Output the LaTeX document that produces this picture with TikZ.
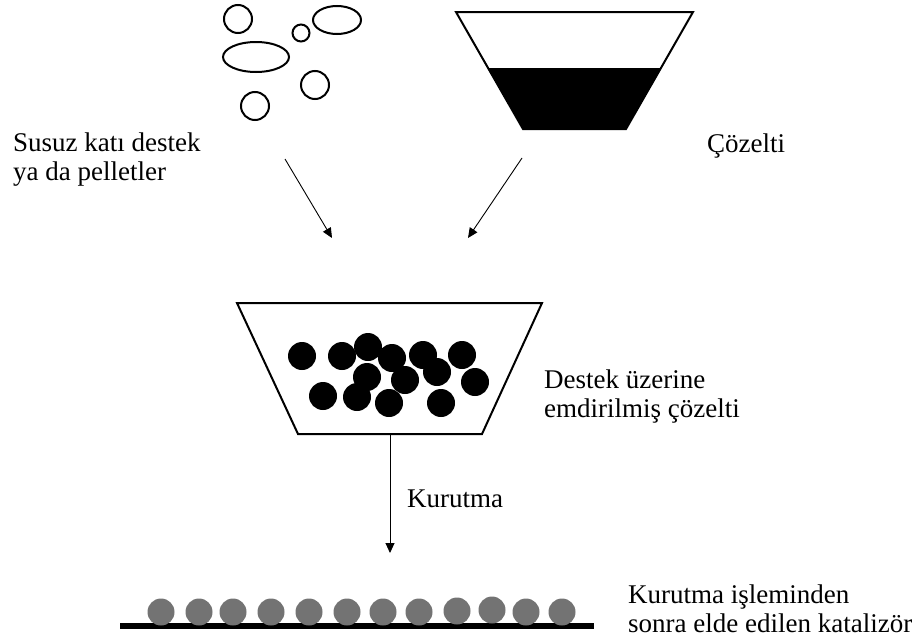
\documentclass[tikz,border=0pt]{standalone}
\usepackage{fontspec}
\setmainfont{Liberation Serif}
\usetikzlibrary{arrows.meta}
\begin{document}
\begin{tikzpicture}[x=1pt,y=-1pt,
  outl/.style={line width=2pt, line join=miter},
  pellet/.style={draw=black, line width=2pt},
  wetball/.style={fill=black},
  dryball/.style={fill=black!55},
  lbl/.style={font=\fontsize{27}{29}\selectfont, inner sep=0pt, anchor=base west, align=left},
  arr/.style={line width=0.9pt, -{Triangle[length=10pt,width=9pt]}}]
\useasboundingbox[fill=white] (0,0) rectangle (921,640);

% dry supports / pellets
\draw[pellet] (238,19) circle[radius=14pt];
\draw[pellet] (301,33) circle[radius=8.5pt];
\draw[pellet] (337,20) ellipse[x radius=24pt, y radius=14pt];
\draw[pellet] (256,57) ellipse[x radius=33pt, y radius=15pt];
\draw[pellet] (315,85) circle[radius=14pt];
\draw[pellet] (255,106) circle[radius=14pt];

% solution funnel
\fill (488,68) -- (661,68) -- (626,129) -- (523,129) -- cycle;
\draw[outl] (456,12) -- (693,12) -- (626,129) -- (523,129) -- cycle;

% impregnation bowl
\draw[outl] (237,303) -- (542,303) -- (482,434) -- (298,434) -- cycle;
\foreach \p in {(302,356),(342,356),(368,347),(392,358),(423,355),(462,355),
                (437,372),(475,382),(367,377),(405,380),(323,396),(357,397),
                (389,403),(441,403)}
  \fill[wetball] \p circle[radius=14pt];

% dried catalyst
\fill (120,623) rectangle (594,629);
\foreach \x/\y in {161/612,199/612,233/612,271/612,309/612,347/612,383/612,
                   419/612,457/611,492/610,526/612,562/612}
  \fill[dryball] (\x,\y) circle[radius=13.5pt];

% labels (base anchor = baseline of the last line)
\node[lbl] (src) at (13,180) {Susuz katı destek\\ya da pelletler};
\node[lbl] (sol) at (707,152) {Çözelti};
\node[lbl] (imp) at (544,417) {Destek üzerine\\emdirilmiş çözelti};
\node[lbl] (dry) at (407,507) {Kurutma};
\node[lbl] (cat) at (628,632) {Kurutma işleminden\\sonra elde edilen katalizör};

% arrows
\coordinate (a1s) at (285,159);
\coordinate (a1e) at (332,238);
\coordinate (a2s) at (522,158);
\coordinate (a2e) at (468,238);
\coordinate (bowlbot) at (390,434);
\coordinate (a3e) at (390,553);
\draw[arr] (a1s) -- (a1e);
\draw[arr] (a2s) -- (a2e);
\draw[arr] (bowlbot) -- (a3e);
\end{tikzpicture}
\end{document}
